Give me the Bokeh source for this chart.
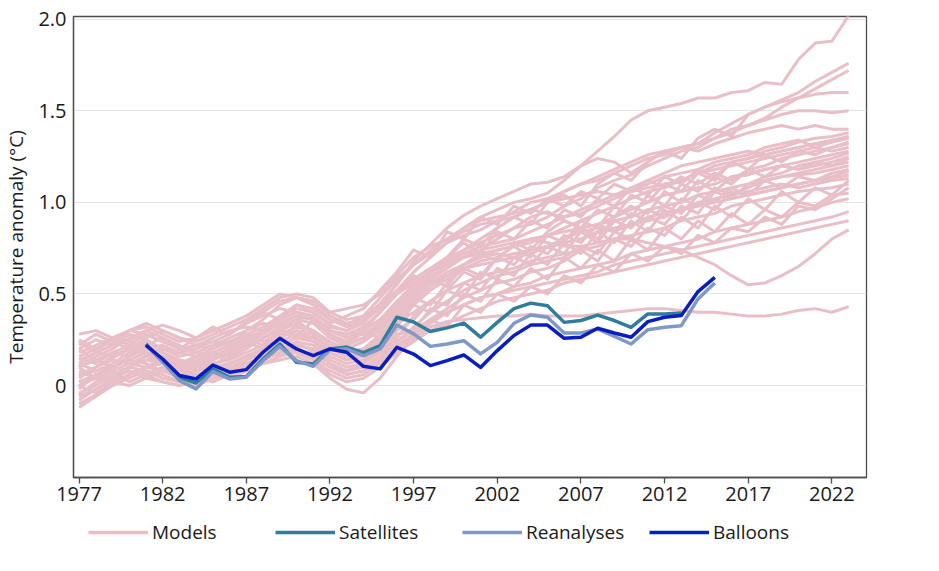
from bokeh.plotting import figure
from bokeh.models import Range1d, FixedTicker, Legend, LegendItem
from bokeh.layouts import column
from bokeh.embed import file_html
from bokeh.resources import INLINE

# ---------------- data ----------------
model_years = list(range(1977, 2024))
obs_years = list(range(1981, 2016))
sat_years = list(range(1981, 2014))

balloons = [0.22, 0.145, 0.055, 0.036, 0.112, 0.073, 0.087, 0.182, 0.258, 0.200,
            0.164, 0.200, 0.182, 0.105, 0.091, 0.209, 0.172, 0.109, 0.136, 0.167,
            0.099, 0.191, 0.273, 0.33, 0.33, 0.258, 0.264, 0.313, 0.287, 0.264,
            0.349, 0.373, 0.382, 0.513, 0.591]
satellites = [0.227, 0.13, 0.045, 0.014, 0.09, 0.045, 0.05, 0.145, 0.227, 0.127,
              0.118, 0.2, 0.21, 0.18, 0.218, 0.373, 0.347, 0.295, 0.315, 0.341,
              0.264, 0.345, 0.42, 0.45, 0.436, 0.345, 0.355, 0.385, 0.355, 0.318,
              0.391, 0.391, 0.396]
reanalyses = [0.22, 0.13, 0.027, -0.018, 0.076, 0.036, 0.045, 0.136, 0.214, 0.136,
              0.105, 0.196, 0.2, 0.164, 0.2, 0.331, 0.282, 0.214, 0.227, 0.245,
              0.173, 0.236, 0.34, 0.385, 0.373, 0.287, 0.287, 0.309, 0.269, 0.227,
              0.305, 0.318, 0.327, 0.473, 0.56]

model_01 = [0.12, 0.18, 0.22, 0.28, 0.25, 0.20, 0.18, 0.22, 0.20, 0.24,
            0.28, 0.32, 0.38, 0.42, 0.40, 0.33, 0.30, 0.36, 0.45, 0.55,
            0.68, 0.77, 0.86, 0.93, 0.98, 1.02, 1.06, 1.10, 1.11, 1.14,
            1.20, 1.28, 1.36, 1.45, 1.50, 1.52, 1.54, 1.57, 1.57, 1.60,
            1.61, 1.655, 1.645, 1.78, 1.87, 1.88, 2.02]
model_02 = [0.05, 0.10, 0.15, 0.20, 0.22, 0.18, 0.12, 0.16, 0.18, 0.22,
            0.25, 0.30, 0.36, 0.40, 0.38, 0.30, 0.26, 0.30, 0.36, 0.46,
            0.55, 0.62, 0.70, 0.80, 0.76, 0.86, 0.92, 0.88, 1.00, 1.04,
            0.98, 1.10, 1.16, 1.12, 1.22, 1.28, 1.24, 1.35, 1.40, 1.36,
            1.48, 1.52, 1.56, 1.60, 1.66, 1.71, 1.76]
model_03 = [0.20, 0.25, 0.22, 0.30, 0.32, 0.28, 0.24, 0.26, 0.30, 0.28,
            0.35, 0.40, 0.46, 0.48, 0.44, 0.36, 0.33, 0.38, 0.48, 0.58,
            0.66, 0.72, 0.78, 0.82, 0.85, 0.90, 0.95, 1.00, 1.02, 1.06,
            1.10, 1.12, 1.16, 1.20, 1.24, 1.26, 1.30, 1.32, 1.35, 1.38,
            1.42, 1.46, 1.52, 1.57, 1.62, 1.67, 1.72]
model_04 = [0.00, 0.05, 0.10, 0.14, 0.18, 0.15, 0.12, 0.14, 0.16, 0.20,
            0.24, 0.30, 0.38, 0.44, 0.42, 0.36, 0.32, 0.35, 0.42, 0.52,
            0.62, 0.70, 0.78, 0.86, 0.92, 0.96, 1.00, 1.02, 1.05, 1.12,
            1.20, 1.24, 1.22, 1.16, 1.22, 1.28, 1.30, 1.32, 1.38, 1.43,
            1.48, 1.52, 1.55, 1.57, 1.59, 1.60, 1.60]
model_05 = [0.10, 0.14, 0.18, 0.16, 0.20, 0.22, 0.18, 0.20, 0.24, 0.22,
            0.30, 0.34, 0.32, 0.36, 0.38, 0.30, 0.28, 0.32, 0.40, 0.50,
            0.58, 0.64, 0.70, 0.74, 0.78, 0.82, 0.86, 0.88, 0.92, 0.98,
            1.02, 1.08, 1.12, 1.15, 1.20, 1.24, 1.28, 1.30, 1.35, 1.40,
            1.42, 1.45, 1.48, 1.50, 1.50, 1.49, 1.50]
model_06 = [-0.05, 0.02, 0.08, 0.12, 0.10, 0.14, 0.12, 0.10, 0.12, 0.15,
            0.20, 0.26, 0.32, 0.36, 0.34, 0.26, 0.22, 0.26, 0.34, 0.44,
            0.54, 0.62, 0.68, 0.74, 0.80, 0.86, 0.92, 0.96, 1.00, 1.06,
            1.10, 1.14, 1.18, 1.22, 1.26, 1.28, 1.30, 1.28, 1.32, 1.35,
            1.38, 1.40, 1.42, 1.40, 1.42, 1.40, 1.40]
model_07 = [0.15, 0.12, 0.18, 0.22, 0.18, 0.12, 0.10, 0.14, 0.18, 0.16,
            0.22, 0.26, 0.30, 0.34, 0.30, 0.22, 0.20, 0.24, 0.30, 0.38,
            0.50, 0.58, 0.54, 0.66, 0.72, 0.68, 0.78, 0.74, 0.84, 0.90,
            0.86, 0.96, 0.92, 1.04, 1.00, 1.10, 1.06, 1.16, 1.12, 1.22,
            1.24, 1.28, 1.30, 1.33, 1.35, 1.36, 1.38]
model_08 = [0.25, 0.20, 0.26, 0.30, 0.28, 0.24, 0.20, 0.22, 0.26, 0.30,
            0.32, 0.30, 0.36, 0.40, 0.38, 0.30, 0.26, 0.28, 0.34, 0.44,
            0.52, 0.60, 0.66, 0.72, 0.76, 0.78, 0.80, 0.84, 0.88, 0.92,
            0.94, 0.98, 1.02, 1.06, 1.10, 1.14, 1.16, 1.18, 1.22, 1.24,
            1.26, 1.30, 1.32, 1.34, 1.30, 1.33, 1.36]
model_09 = [-0.10, -0.05, 0.00, 0.06, 0.10, 0.08, 0.04, 0.06, 0.08, 0.12,
            0.16, 0.20, 0.26, 0.30, 0.28, 0.20, 0.16, 0.18, 0.24, 0.32,
            0.44, 0.40, 0.52, 0.62, 0.58, 0.70, 0.76, 0.70, 0.82, 0.78,
            0.90, 0.86, 0.98, 0.92, 1.04, 0.98, 1.10, 1.06, 1.14, 1.10,
            1.18, 1.20, 1.24, 1.26, 1.28, 1.30, 1.33]
model_10 = [0.05, 0.08, 0.12, 0.18, 0.22, 0.26, 0.22, 0.18, 0.16, 0.20,
            0.26, 0.30, 0.34, 0.32, 0.30, 0.24, 0.20, 0.24, 0.30, 0.40,
            0.48, 0.56, 0.62, 0.66, 0.70, 0.74, 0.76, 0.80, 0.82, 0.86,
            0.90, 0.94, 0.98, 1.02, 1.06, 1.08, 1.12, 1.16, 1.18, 1.20,
            1.22, 1.24, 1.26, 1.28, 1.30, 1.28, 1.30]
model_11 = [0.02, 0.06, 0.04, 0.10, 0.14, 0.12, 0.08, 0.10, 0.12, 0.14,
            0.18, 0.22, 0.28, 0.32, 0.30, 0.22, 0.18, 0.20, 0.28, 0.36,
            0.44, 0.52, 0.58, 0.64, 0.68, 0.70, 0.72, 0.74, 0.76, 0.80,
            0.86, 0.80, 0.92, 0.98, 0.94, 1.06, 1.00, 1.12, 1.06, 1.14,
            1.15, 1.18, 1.20, 1.22, 1.24, 1.26, 1.28]
model_12 = [0.18, 0.22, 0.26, 0.24, 0.20, 0.18, 0.14, 0.12, 0.16, 0.20,
            0.24, 0.28, 0.34, 0.38, 0.36, 0.28, 0.24, 0.26, 0.32, 0.42,
            0.50, 0.58, 0.64, 0.70, 0.74, 0.80, 0.86, 0.92, 0.95, 0.90,
            0.86, 0.88, 0.92, 0.96, 1.00, 1.04, 1.06, 1.08, 1.10, 1.14,
            1.16, 1.18, 1.20, 1.18, 1.20, 1.22, 1.25]
model_13 = [-0.08, -0.02, 0.04, 0.08, 0.06, 0.02, 0.00, 0.04, 0.06, 0.10,
            0.14, 0.18, 0.22, 0.26, 0.24, 0.16, 0.12, 0.14, 0.22, 0.30,
            0.36, 0.46, 0.52, 0.48, 0.62, 0.58, 0.70, 0.66, 0.76, 0.72,
            0.84, 0.78, 0.90, 0.86, 0.96, 0.92, 1.02, 0.98, 1.08, 1.04,
            1.08, 1.12, 1.14, 1.16, 1.18, 1.20, 1.22]
model_14 = [0.10, 0.16, 0.20, 0.26, 0.30, 0.26, 0.20, 0.18, 0.22, 0.26,
            0.30, 0.36, 0.44, 0.48, 0.46, 0.38, 0.34, 0.36, 0.42, 0.50,
            0.56, 0.62, 0.66, 0.70, 0.72, 0.74, 0.76, 0.78, 0.82, 0.84,
            0.86, 0.88, 0.90, 0.92, 0.96, 0.98, 1.00, 1.04, 1.06, 1.08,
            1.10, 1.12, 1.14, 1.15, 1.16, 1.18, 1.20]
model_15 = [0.00, 0.04, 0.10, 0.14, 0.12, 0.08, 0.06, 0.08, 0.10, 0.08,
            0.12, 0.16, 0.20, 0.24, 0.22, 0.14, 0.10, 0.12, 0.18, 0.26,
            0.38, 0.46, 0.44, 0.56, 0.52, 0.64, 0.60, 0.72, 0.66, 0.78,
            0.72, 0.84, 0.78, 0.90, 0.84, 0.96, 0.90, 1.00, 0.96, 1.06,
            1.04, 1.06, 1.08, 1.10, 1.12, 1.14, 1.17]
model_16 = [0.22, 0.28, 0.24, 0.20, 0.26, 0.30, 0.26, 0.22, 0.24, 0.28,
            0.34, 0.38, 0.42, 0.40, 0.36, 0.30, 0.28, 0.30, 0.36, 0.44,
            0.50, 0.56, 0.60, 0.64, 0.66, 0.68, 0.70, 0.74, 0.76, 0.78,
            0.80, 0.84, 0.86, 0.88, 0.90, 0.92, 0.96, 0.98, 1.00, 1.02,
            1.04, 1.06, 1.08, 1.10, 1.12, 1.13, 1.15]
model_17 = [-0.12, -0.06, 0.00, 0.04, 0.08, 0.06, 0.02, 0.04, 0.08, 0.10,
            0.12, 0.16, 0.20, 0.22, 0.20, 0.12, 0.08, 0.10, 0.16, 0.24,
            0.30, 0.36, 0.42, 0.48, 0.52, 0.56, 0.58, 0.62, 0.64, 0.68,
            0.74, 0.68, 0.80, 0.76, 0.86, 0.82, 0.92, 0.86, 0.98, 0.92,
            1.02, 0.96, 1.06, 1.00, 1.08, 1.04, 1.12]
model_18 = [0.06, 0.10, 0.14, 0.12, 0.16, 0.20, 0.18, 0.16, 0.20, 0.24,
            0.28, 0.24, 0.28, 0.30, 0.26, 0.20, 0.18, 0.20, 0.26, 0.34,
            0.40, 0.46, 0.52, 0.56, 0.60, 0.62, 0.64, 0.68, 0.70, 0.72,
            0.74, 0.76, 0.80, 0.82, 0.84, 0.86, 0.90, 0.92, 0.94, 0.98,
            1.00, 1.02, 1.04, 1.06, 1.07, 1.08, 1.10]
model_19 = [0.12, 0.08, 0.10, 0.14, 0.18, 0.16, 0.12, 0.08, 0.10, 0.12,
            0.16, 0.20, 0.24, 0.28, 0.26, 0.18, 0.14, 0.16, 0.20, 0.28,
            0.30, 0.42, 0.38, 0.50, 0.46, 0.58, 0.54, 0.64, 0.58, 0.70,
            0.64, 0.74, 0.68, 0.80, 0.74, 0.86, 0.80, 0.90, 0.84, 0.94,
            0.88, 0.96, 0.92, 1.00, 0.98, 1.04, 1.05]
model_20 = [-0.04, 0.00, 0.06, 0.10, 0.08, 0.04, 0.02, 0.00, 0.04, 0.08,
            0.10, 0.14, 0.18, 0.20, 0.16, 0.10, 0.06, 0.08, 0.14, 0.22,
            0.28, 0.34, 0.40, 0.44, 0.48, 0.50, 0.54, 0.56, 0.60, 0.62,
            0.64, 0.66, 0.68, 0.72, 0.74, 0.76, 0.78, 0.80, 0.84, 0.86,
            0.88, 0.90, 0.92, 0.95, 0.97, 1.00, 1.02]
model_21 = [0.08, 0.04, 0.02, 0.06, 0.10, 0.12, 0.08, 0.06, 0.04, 0.06,
            0.10, 0.12, 0.16, 0.18, 0.14, 0.06, 0.02, 0.04, 0.10, 0.18,
            0.24, 0.30, 0.34, 0.38, 0.42, 0.46, 0.48, 0.50, 0.52, 0.56,
            0.58, 0.60, 0.62, 0.64, 0.66, 0.68, 0.70, 0.72, 0.74, 0.76,
            0.78, 0.80, 0.82, 0.84, 0.86, 0.88, 0.90]
model_22 = [0.16, 0.20, 0.24, 0.30, 0.34, 0.30, 0.26, 0.24, 0.28, 0.32,
            0.36, 0.42, 0.48, 0.50, 0.48, 0.40, 0.36, 0.38, 0.44, 0.52,
            0.58, 0.64, 0.68, 0.72, 0.74, 0.76, 0.78, 0.80, 0.78, 0.76,
            0.76, 0.78, 0.80, 0.80, 0.78, 0.76, 0.74, 0.70, 0.66, 0.60,
            0.55, 0.56, 0.60, 0.65, 0.72, 0.80, 0.85]
model_23 = [0.02, 0.06, 0.10, 0.08, 0.04, 0.02, 0.00, 0.02, 0.06, 0.04,
            0.08, 0.12, 0.14, 0.16, 0.12, 0.04, -0.02, -0.04, 0.04, 0.16,
            0.26, 0.32, 0.35, 0.36, 0.37, 0.38, 0.38, 0.39, 0.38, 0.38,
            0.38, 0.39, 0.40, 0.41, 0.42, 0.42, 0.41, 0.40, 0.40, 0.39,
            0.38, 0.38, 0.39, 0.41, 0.42, 0.40, 0.43]
model_24 = [0.28, 0.30, 0.26, 0.24, 0.30, 0.33, 0.30, 0.26, 0.30, 0.34,
            0.38, 0.44, 0.50, 0.48, 0.46, 0.40, 0.42, 0.44, 0.50, 0.60,
            0.70, 0.76, 0.80, 0.84, 0.88, 0.90, 0.92, 0.96, 1.00, 1.02,
            1.04, 1.06, 1.04, 1.08, 1.12, 1.16, 1.20, 1.22, 1.24, 1.26,
            1.28, 1.26, 1.28, 1.30, 1.32, 1.34, 1.36]
model_25 = [0.04, 0.10, 0.16, 0.20, 0.18, 0.14, 0.10, 0.12, 0.14, 0.18,
            0.22, 0.26, 0.30, 0.28, 0.24, 0.18, 0.14, 0.18, 0.26, 0.36,
            0.46, 0.54, 0.60, 0.66, 0.70, 0.72, 0.70, 0.72, 0.76, 0.80,
            0.84, 0.86, 0.84, 0.88, 0.92, 0.94, 0.96, 1.00, 1.02, 1.04,
            1.06, 1.08, 1.10, 1.08, 1.10, 1.12, 1.13]
model_26 = [-0.06, -0.02, 0.02, 0.00, 0.04, 0.08, 0.06, 0.04, 0.02, 0.06,
            0.10, 0.14, 0.18, 0.22, 0.20, 0.12, 0.06, 0.08, 0.14, 0.24,
            0.32, 0.40, 0.46, 0.52, 0.56, 0.60, 0.62, 0.66, 0.68, 0.70,
            0.76, 0.72, 0.84, 0.80, 0.92, 0.88, 0.98, 0.94, 1.06, 1.02,
            1.10, 1.14, 1.16, 1.20, 1.22, 1.24, 1.27]
model_27 = [0.14, 0.18, 0.16, 0.20, 0.24, 0.20, 0.16, 0.18, 0.22, 0.24,
            0.26, 0.30, 0.34, 0.38, 0.36, 0.32, 0.30, 0.34, 0.44, 0.56,
            0.66, 0.74, 0.80, 0.86, 0.90, 0.92, 0.94, 0.96, 0.94, 0.92,
            0.96, 1.00, 1.04, 1.06, 1.08, 1.10, 1.12, 1.16, 1.20, 1.22,
            1.24, 1.26, 1.28, 1.30, 1.32, 1.33, 1.35]
model_28 = [0.00, -0.04, 0.02, 0.06, 0.10, 0.14, 0.10, 0.06, 0.08, 0.12,
            0.16, 0.18, 0.20, 0.18, 0.14, 0.08, 0.04, 0.06, 0.12, 0.20,
            0.28, 0.34, 0.40, 0.44, 0.48, 0.50, 0.52, 0.54, 0.56, 0.58,
            0.60, 0.62, 0.66, 0.68, 0.70, 0.72, 0.74, 0.76, 0.78, 0.80,
            0.82, 0.84, 0.86, 0.88, 0.90, 0.92, 0.95]
model_29 = [0.20, 0.14, 0.10, 0.16, 0.22, 0.18, 0.14, 0.10, 0.14, 0.18,
            0.26, 0.22, 0.30, 0.36, 0.28, 0.20, 0.24, 0.30, 0.26, 0.38,
            0.48, 0.44, 0.56, 0.64, 0.60, 0.70, 0.66, 0.76, 0.72, 0.82,
            0.78, 0.88, 0.84, 0.94, 0.90, 0.98, 0.94, 1.04, 1.00, 1.08,
            1.04, 1.12, 1.08, 1.14, 1.12, 1.16, 1.18]
model_30 = [-0.02, 0.06, 0.02, 0.10, 0.16, 0.12, 0.08, 0.14, 0.10, 0.18,
            0.24, 0.20, 0.30, 0.26, 0.36, 0.28, 0.22, 0.30, 0.40, 0.50,
            0.60, 0.56, 0.70, 0.78, 0.72, 0.84, 0.80, 0.90, 0.86, 0.96,
            0.92, 1.02, 0.98, 1.08, 1.04, 1.14, 1.10, 1.18, 1.14, 1.22,
            1.18, 1.26, 1.22, 1.28, 1.26, 1.30, 1.32]
model_31 = [0.10, 0.04, 0.08, 0.02, 0.06, 0.10, 0.04, 0.08, 0.12, 0.08,
            0.14, 0.20, 0.16, 0.24, 0.18, 0.12, 0.08, 0.12, 0.20, 0.16,
            0.28, 0.36, 0.32, 0.44, 0.40, 0.50, 0.46, 0.54, 0.50, 0.60,
            0.56, 0.66, 0.62, 0.72, 0.68, 0.76, 0.72, 0.82, 0.78, 0.86,
            0.84, 0.92, 0.88, 0.98, 0.96, 1.02, 1.08]
model_32 = [0.24, 0.18, 0.26, 0.22, 0.28, 0.24, 0.20, 0.26, 0.32, 0.28,
            0.34, 0.40, 0.36, 0.44, 0.40, 0.34, 0.38, 0.42, 0.52, 0.62,
            0.74, 0.70, 0.84, 0.80, 0.92, 0.88, 0.98, 0.94, 1.02, 0.98,
            1.06, 1.02, 1.10, 1.06, 1.12, 1.08, 1.14, 1.10, 1.16, 1.12,
            1.18, 1.14, 1.20, 1.18, 1.22, 1.20, 1.24]

models = [model_01, model_02, model_03, model_04, model_05, model_06, model_07,
          model_08, model_09, model_10, model_11, model_12, model_13, model_14,
          model_15, model_16, model_17, model_18, model_19, model_20, model_21,
          model_22, model_23, model_24, model_25, model_26, model_27, model_28,
          model_29, model_30, model_31, model_32]

x_ticks = [1977, 1982, 1987, 1992, 1997, 2002, 2007, 2012, 2017, 2022]
y_ticks = [0, 0.5, 1.0, 1.5, 2.0]
y_tick_labels = ["0", "0.5", "1.0", "1.5", "2.0"]
legend_labels = ["Models", "Satellites", "Reanalyses", "Balloons"]

# ---------------- styles ----------------
FONT = "Open Sans"
C_MODEL = "#e8bfc7"
C_SAT = "#2f7d9b"
C_REA = "#8098c6"
C_BAL = "#0a1dbf"
TXT = "#1a1a1a"
AX = "#4d4d4d"

p = figure(output_backend="svg", toolbar_location=None,
           width=915, height=510,
           min_border_left=65, min_border_right=49, min_border_top=16,
           min_border_bottom=33,
           x_range=Range1d(1976.67, 2024.07), y_range=Range1d(-0.502, 2.015))

p.outline_line_color = AX
p.outline_line_width = 1.3
p.background_fill_color = "white"
p.border_fill_color = "white"

p.xgrid.grid_line_color = None
p.ygrid.grid_line_color = "#e4e4e4"
p.ygrid.grid_line_width = 1.2
p.ygrid.ticker = FixedTicker(ticks=y_ticks)

p.xaxis.ticker = FixedTicker(ticks=x_ticks)
p.xaxis.major_tick_out = 6
p.xaxis.major_tick_in = 0
p.xaxis.minor_tick_line_color = None
p.xaxis.major_tick_line_color = AX
p.xaxis.major_tick_line_width = 1.3
p.xaxis.axis_line_color = AX
p.xaxis.axis_line_width = 1.3
p.xaxis.major_label_standoff = 3
p.xaxis.major_label_text_font = FONT
p.xaxis.major_label_text_font_size = "20px"
p.xaxis.major_label_text_color = TXT
p.xaxis.axis_label_standoff = 0

p.yaxis.ticker = FixedTicker(ticks=y_ticks)
p.yaxis.major_label_overrides = {t: s for t, s in zip(y_ticks, y_tick_labels)}
p.yaxis.major_tick_in = 0
p.yaxis.major_tick_out = 0
p.yaxis.minor_tick_line_color = None
p.yaxis.axis_line_color = AX
p.yaxis.axis_line_width = 1.3
p.yaxis.major_label_standoff = 7
p.yaxis.major_label_text_font = FONT
p.yaxis.major_label_text_font_size = "20px"
p.yaxis.major_label_text_color = TXT
p.yaxis.axis_label = "Temperature anomaly (°C)"
p.yaxis.axis_label_text_font = FONT
p.yaxis.axis_label_text_font_size = "19px"
p.yaxis.axis_label_text_font_style = "normal"
p.yaxis.axis_label_text_color = TXT
p.yaxis.axis_label_standoff = 6

for m in models:
    p.line(model_years, m, line_color=C_MODEL, line_width=3, line_join="round")

p.line(sat_years, satellites, line_color=C_SAT, line_width=3.5, line_join="round")
p.line(obs_years, reanalyses, line_color=C_REA, line_width=3.5, line_join="round")
p.line(obs_years, balloons, line_color=C_BAL, line_width=3.5, line_join="round")

# ---------------- legend strip below the chart ----------------
# (the same series drawn again in a strip whose ranges keep them out of view;
#  they only serve as legend glyph sources)
lf = figure(output_backend="svg", toolbar_location=None, width=915, height=44,
            min_border_left=65, min_border_right=49, min_border_top=0,
            min_border_bottom=0, x_axis_location=None, y_axis_location=None,
            x_range=Range1d(0, 1), y_range=Range1d(0, 1))
lf.outline_line_color = None
lf.grid.grid_line_color = None

leg_series = [(model_years, model_01, C_MODEL, 3.5),
              (sat_years, satellites, C_SAT, 3.5),
              (obs_years, reanalyses, C_REA, 3.5),
              (obs_years, balloons, C_BAL, 3.5)]
items = []
for lab, (xs, ys, col, w) in zip(legend_labels, leg_series):
    r = lf.line(xs, ys, line_color=col, line_width=w)
    items.append(LegendItem(label=lab, renderers=[r]))

legend = Legend(items=items, orientation="horizontal", location="left")
legend.glyph_width = 60
legend.glyph_height = 20
legend.label_height = 20
legend.label_standoff = 4
legend.label_width = 113
legend.spacing = 10
legend.padding = 15
legend.margin = 15
legend.border_line_color = None
legend.background_fill_alpha = 0
legend.label_text_font = FONT
legend.label_text_font_size = "19px"
legend.label_text_color = TXT
lf.add_layout(legend, "center")

layout = column(p, lf, spacing=0)
open("out.html", "w").write(file_html(layout, INLINE))
